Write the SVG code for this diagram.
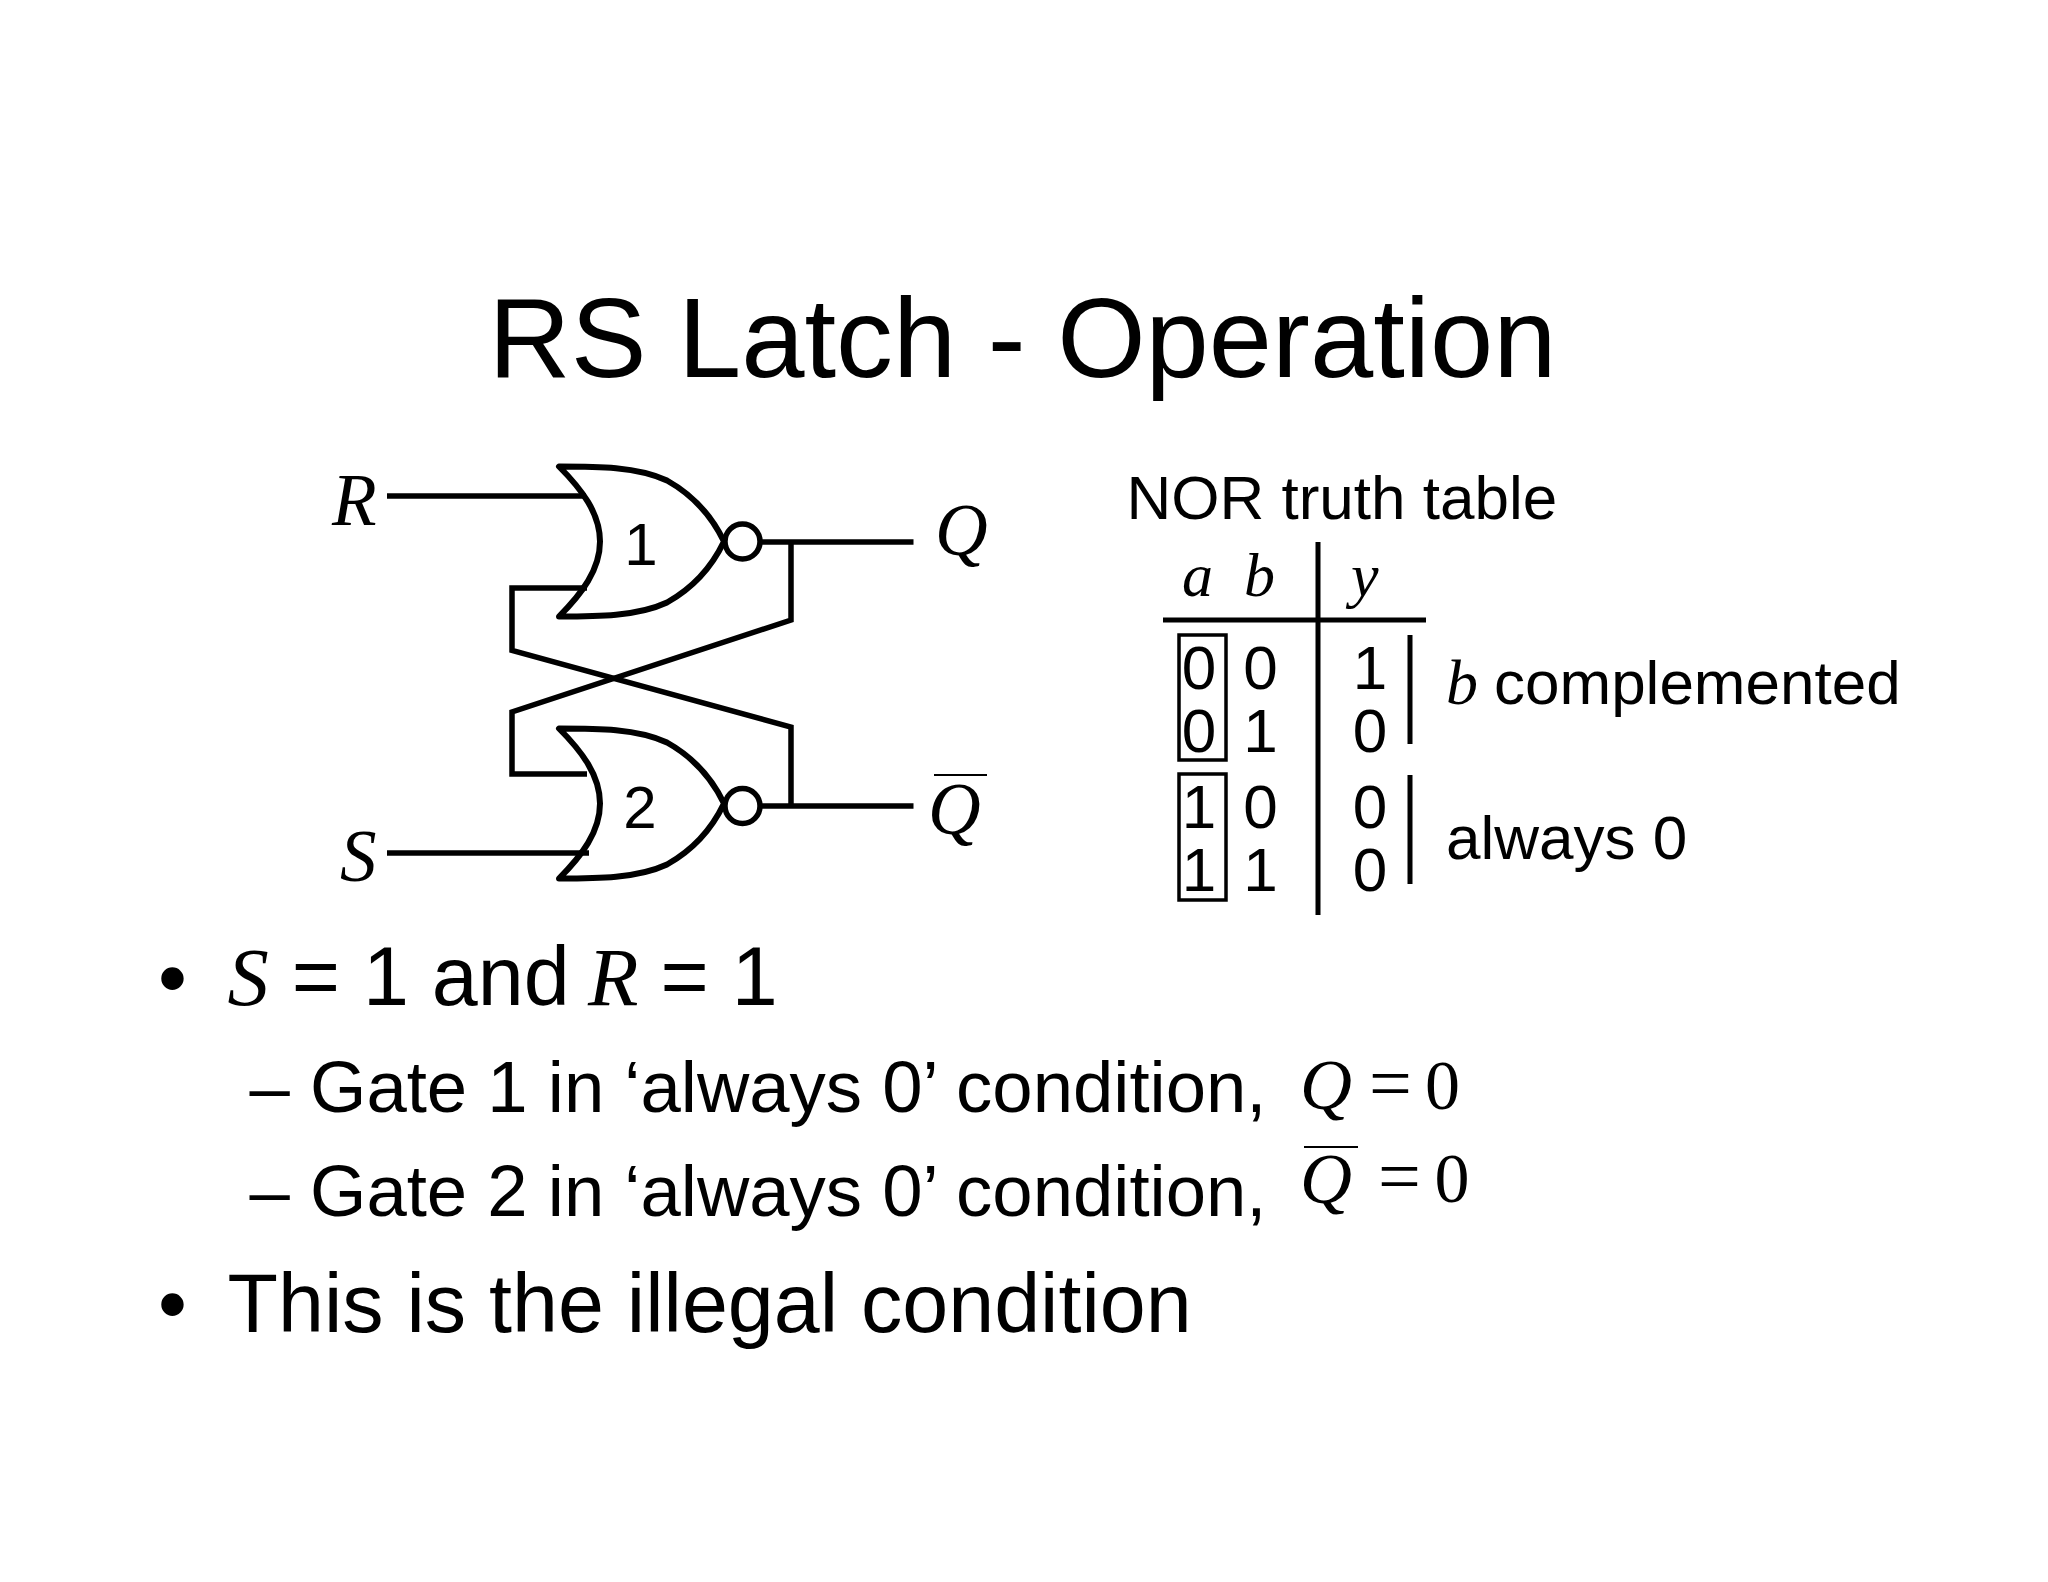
<svg xmlns="http://www.w3.org/2000/svg" width="2048" height="1582" viewBox="0 0 2048 1582">
<defs>
<style>
text{font-family:"Liberation Sans",Arial,sans-serif;fill:#000}
.i{font-family:"Liberation Serif","Times New Roman",serif;font-style:italic}
.r{font-family:"Liberation Serif","Times New Roman",serif}
.w{fill:none;stroke:#000;stroke-width:5.5;stroke-linejoin:miter}
.t{fill:none;stroke:#000;stroke-width:5}
.x{fill:none;stroke:#000;stroke-width:3.5}
.g{fill:none;stroke:#000;stroke-width:6;stroke-linejoin:round;stroke-linecap:round}
.c{text-anchor:middle;font-size:62px}
.b{font-size:82.6px}
.s{font-size:72.5px}
.v{font-size:73px}
</style>
<path id="nor" d="M0 0C38 0 78 0 108 14C133 28 153 50 165 75C153 100 133 122 108 136C78 150 38 150 0 150C23 127 41 103 41 75C41 47 23 23 0 0Z"/>
</defs>
<rect width="2048" height="1582" fill="#fff"/>
<text id="title" x="1022.5" y="376.5" text-anchor="middle" font-size="113.7">RS Latch - Operation</text>
<g id="connectors">
<path class="w" d="M387 496H586"/>
<path class="w" d="M387 853H589"/>
<path class="w" d="M761 542H913.5"/>
<path class="w" d="M761 806H913.5"/>
<path class="w" d="M791 542V620L512 712V774H587"/>
<path class="w" d="M587 588H512V650.5L791 727V806"/>
</g>
<g id="gate1"><use href="#nor" x="559" y="466.5" class="g"/><circle class="w" cx="742.5" cy="541.5" r="17.5"/><text x="641" y="564.5" text-anchor="middle" font-size="60">1</text></g>
<g id="gate2"><use href="#nor" x="559" y="728.5" class="g"/><circle class="w" cx="742.5" cy="806" r="17.5"/><text x="640" y="828" text-anchor="middle" font-size="60">2</text></g>
<g id="label-R"><text class="i v" x="332" y="524.5">R</text></g>
<g id="label-S"><text class="i v" x="340" y="881">S</text></g>
<g id="label-Q"><text class="i v" x="935" y="555">Q</text></g>
<g id="label-Qbar"><text class="i v" x="928" y="834">Q</text><path d="M934 775H987" stroke="#000" stroke-width="2"/></g>
<g id="truth-table">
<text x="1126.5" y="518.5" font-size="62">NOR truth table</text>
<text class="i" x="1182" y="596" font-size="62">a</text>
<text class="i" x="1244" y="596" font-size="62">b</text>
<text class="i" x="1351" y="596" font-size="62">y</text>
<path class="t" d="M1318 542V915"/>
<path class="t" d="M1163 620H1426"/>
<rect class="x" x="1179" y="635" width="47" height="125"/>
<rect class="x" x="1179" y="774" width="47" height="126"/>
<path class="t" d="M1410 635V744M1410 775V884"/>
<g class="digits">
<text class="c" x="1199" y="689">0</text><text class="c" x="1260.5" y="689">0</text><text class="c" x="1370" y="689">1</text>
<text class="c" x="1199" y="752">0</text><text class="c" x="1260.5" y="752">1</text><text class="c" x="1370" y="752">0</text>
<text class="c" x="1199" y="828">1</text><text class="c" x="1260.5" y="828">0</text><text class="c" x="1370" y="828">0</text>
<text class="c" x="1199" y="891">1</text><text class="c" x="1260.5" y="891">1</text><text class="c" x="1370" y="891">0</text>
</g>
<text class="i" x="1446" y="704" font-size="64">b</text>
<text x="1494" y="704" font-size="62">complemented</text>
<text x="1446" y="859" font-size="62">always 0</text>
</g>
<g id="bullets">
<text class="b" x="158" y="1006">•</text>
<text class="b" x="227.5" y="1005"><tspan class="i">S</tspan> = 1 and <tspan class="i" dx="-4.5">R</tspan><tspan dx="-1"> = 1</tspan></text>
<text class="s" x="249.5" y="1111.5">–</text>
<text class="s" x="310" y="1111.5">Gate 1 in ‘always 0’ condition,</text>
<text class="s" x="249.5" y="1216">–</text>
<text class="s" x="310" y="1216">Gate 2 in ‘always 0’ condition,</text>
<text class="i" x="1300" y="1109" font-size="72">Q</text>
<text class="r" x="1369" y="1109" font-size="76">=</text>
<text class="r" x="1425" y="1109" font-size="70">0</text>
<text class="i" x="1300" y="1203" font-size="72">Q</text>
<path d="M1304 1147H1358" stroke="#000" stroke-width="2"/>
<text class="r" x="1378" y="1202" font-size="76">=</text>
<text class="r" x="1434.5" y="1202" font-size="70">0</text>
<text class="b" x="158" y="1332">•</text>
<text class="b" x="227.5" y="1332">This is the illegal condition</text>
</g>
</svg>
